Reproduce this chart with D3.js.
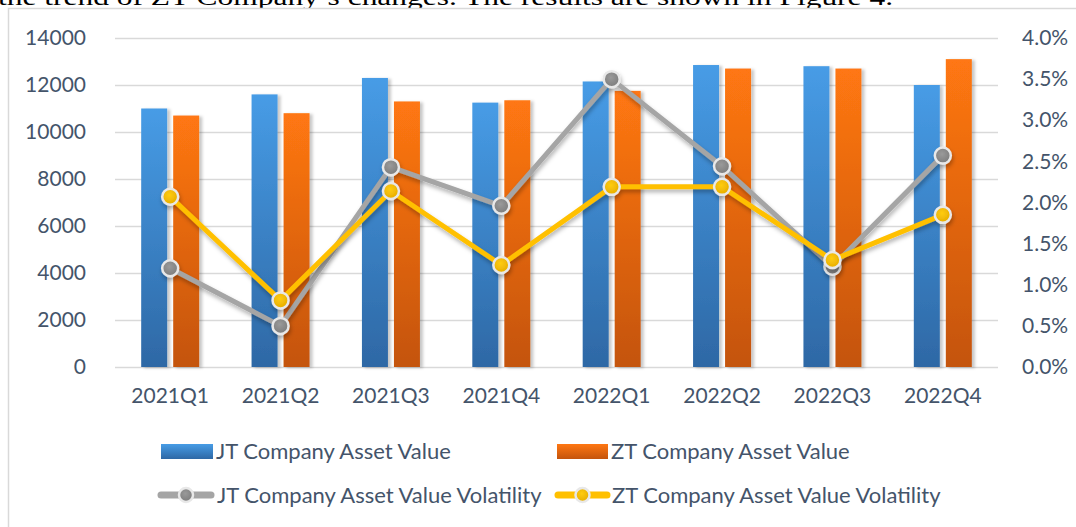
<!DOCTYPE html>
<html>
<head>
<meta charset="utf-8">
<script src="https://cdn.jsdelivr.net/npm/d3@7"></script>
<style>
  html, body { margin: 0; padding: 0; background: #fff; }
  svg { display: block; }
</style>
</head>
<body>
<div id="chart"></div>
<script>
// chart values
const quarters = ['2021Q1', '2021Q2', '2021Q3', '2021Q4', '2022Q1', '2022Q2', '2022Q3', '2022Q4'];
const jtValue = [11000, 11600, 12300, 11250, 12150, 12850, 12800, 12000];
const ztValue = [10700, 10800, 11300, 11350, 11750, 12700, 12700, 13100];
const jtVolatility = [0.0120, 0.0050, 0.0243, 0.0196, 0.0350, 0.0244, 0.0122, 0.0257];
const ztVolatility = [0.0207, 0.0081, 0.0214, 0.0124, 0.0219, 0.0219, 0.0130, 0.0185];
const leftTicks = [0, 2000, 4000, 6000, 8000, 10000, 12000, 14000];
const rightTicks = [0, 0.005, 0.01, 0.015, 0.02, 0.025, 0.03, 0.035, 0.04];
const legendNames = [
  'JT Company Asset Value', 'ZT Company Asset Value',
  'JT Company Asset Value Volatility', 'ZT Company Asset Value Volatility'
];
const captionText = 'the trend of ZT Company\u2019s changes. The results are shown in Figure 4.';

(function() {
  const width = 1076;
  const height = 527;
  const font = 'Lato, "Open Sans", sans-serif';
  const textColor = '#44546a';

  const svg = d3.select('#chart').append('svg')
    .attr('width', width)
    .attr('height', height);

  const defs = svg.append('defs');
  const grad = (id, top, bottom) => {
    const g = defs.append('linearGradient')
      .attr('id', id)
      .attr('x1', 0).attr('y1', 0).attr('x2', 0).attr('y2', 1);
    g.append('stop').attr('offset', '0%').attr('stop-color', top);
    g.append('stop').attr('offset', '100%').attr('stop-color', bottom);
  };
  grad('gBlue', '#479ce6', '#2e68a5');
  grad('gOrange', '#ff7712', '#c4540c');
  const radial = (id, inner, outer) => {
    const g = defs.append('radialGradient').attr('id', id)
      .attr('cx', '45%').attr('cy', '40%').attr('r', '60%');
    g.append('stop').attr('offset', '0%').attr('stop-color', inner);
    g.append('stop').attr('offset', '100%').attr('stop-color', outer);
  };
  radial('gGrayDot', '#9a9a9a', '#7c7c7c');
  radial('gGoldDot', '#ffcc10', '#e6ac00');

  const shadow = defs.append('filter').attr('id', 'shadow')
    .attr('x', '-20%').attr('y', '-20%').attr('width', '140%').attr('height', '140%');
  shadow.append('feDropShadow')
    .attr('dx', 3).attr('dy', 1).attr('stdDeviation', 1.6)
    .attr('flood-color', '#000').attr('flood-opacity', 0.22);
  const lineShadow = defs.append('filter').attr('id', 'lineShadow')
    .attr('x', '-10%').attr('y', '-10%').attr('width', '120%').attr('height', '130%');
  lineShadow.append('feDropShadow')
    .attr('dx', 1).attr('dy', 3).attr('stdDeviation', 2)
    .attr('flood-color', '#000').attr('flood-opacity', 0.3);

  // cropped text of the page above the figure (cut by the top edge in the source too)
  svg.append('text')
    .attr('x', -2)
    .attr('y', 5)
    .attr('textLength', 895)
    .attr('lengthAdjust', 'spacingAndGlyphs')
    .style('font-family', '"Liberation Serif", "Times New Roman", serif')
    .style('font-size', '24px')
    .attr('fill', '#000')
    .text(captionText);

  // chart frame
  svg.append('rect')
    .attr('x', 8.5).attr('y', 8.5)
    .attr('width', width + 20).attr('height', height + 20)
    .attr('fill', '#fff')
    .attr('stroke', '#d9d9d9')
    .attr('stroke-width', 1.5);

  const plot = {left: 115, right: 998, top: 38, bottom: 367};

  const xScale = d3.scaleBand()
    .domain(quarters)
    .range([plot.left, plot.right]);
  const yLeft = d3.scaleLinear()
    .domain([0, 14000])
    .range([plot.bottom, plot.top]);
  const yRight = d3.scaleLinear()
    .domain([0, 0.04])
    .range([plot.bottom, plot.top]);

  // grid
  const grid = d3.axisLeft(yLeft)
    .tickValues(leftTicks)
    .tickSize(-(plot.right - plot.left))
    .tickFormat('');
  svg.append('g')
    .attr('transform', `translate(${plot.left}, 0)`)
    .call(grid)
    .call(g => g.select('.domain').remove())
    .call(g => g.selectAll('line').attr('stroke', '#d9d9d9').attr('stroke-width', 1.5));

  // left axis labels
  const leftAxis = d3.axisLeft(yLeft)
    .tickValues(leftTicks)
    .tickSize(0)
    .tickPadding(plot.left - 86)
    .tickFormat(d3.format('d'));
  svg.append('g')
    .attr('transform', `translate(${plot.left}, 0)`)
    .call(leftAxis)
    .call(g => g.select('.domain').remove())
    .call(g => g.selectAll('text')
      .attr('fill', textColor)
      .style('font-family', font)
      .style('font-size', '21px'));

  // right axis labels
  const rightAxis = d3.axisRight(yRight)
    .tickValues(rightTicks)
    .tickSize(0)
    .tickPadding(1022 - plot.right)
    .tickFormat(d3.format('.1%'));
  svg.append('g')
    .attr('transform', `translate(${plot.right}, 0)`)
    .call(rightAxis)
    .call(g => g.select('.domain').remove())
    .call(g => g.selectAll('text')
      .attr('fill', textColor)
      .style('font-family', font)
      .style('font-size', '21px'));

  // category axis
  const xAxis = d3.axisBottom(xScale).tickSize(0).tickPadding(21);
  svg.append('g')
    .attr('transform', `translate(0, ${plot.bottom})`)
    .call(xAxis)
    .call(g => g.select('.domain').remove())
    .call(g => g.selectAll('text')
      .attr('fill', textColor)
      .style('font-family', font)
      .style('font-size', '21px'));

  // bars
  const barW = 26;
  const gap = 6;
  const center = q => xScale(q) + xScale.bandwidth() / 2;
  const bars = [
    {values: jtValue, fill: 'url(#gBlue)', dx: -gap / 2 - barW},
    {values: ztValue, fill: 'url(#gOrange)', dx: gap / 2}
  ];
  bars.forEach(s => {
    svg.append('g')
      .attr('filter', 'url(#shadow)')
      .selectAll('rect')
      .data(quarters)
      .join('rect')
      .attr('x', (q, i) => center(q) + s.dx)
      .attr('y', (q, i) => yLeft(s.values[i]))
      .attr('width', barW)
      .attr('height', (q, i) => yLeft(0) - yLeft(s.values[i]))
      .attr('fill', s.fill);
  });

  // lines
  const lines = [
    {values: jtVolatility, stroke: '#a5a5a5', dot: 'url(#gGrayDot)'},
    {values: ztVolatility, stroke: '#ffc000', dot: 'url(#gGoldDot)'}
  ];
  const line = d3.line()
    .x(d => center(d.q))
    .y(d => yRight(d.v));
  lines.forEach(s => {
    const pts = quarters.map((q, i) => ({q: q, v: s.values[i]}));
    const g = svg.append('g').attr('filter', 'url(#lineShadow)');
    g.append('path')
      .datum(pts)
      .attr('fill', 'none')
      .attr('stroke', s.stroke)
      .attr('stroke-width', 5)
      .attr('stroke-linejoin', 'round')
      .attr('d', line);
    g.selectAll('circle')
      .data(pts)
      .join('circle')
      .attr('cx', d => center(d.q))
      .attr('cy', d => yRight(d.v))
      .attr('r', 8)
      .attr('fill', s.dot)
      .attr('stroke', '#e8e8e8')
      .attr('stroke-width', 2.5);
  });

  // legend
  const legend = svg.append('g');
  const legendText = (x, y, t) => legend.append('text')
    .attr('x', x)
    .attr('y', y)
    .attr('dy', '0.35em')
    .attr('fill', textColor)
    .style('font-family', font)
    .style('font-size', '22px')
    .text(t);

  legend.append('rect')
    .attr('x', 161).attr('y', 444).attr('width', 52).attr('height', 15)
    .attr('fill', 'url(#gBlue)');
  legendText(216, 451, legendNames[0]);
  legend.append('rect')
    .attr('x', 557).attr('y', 444).attr('width', 51).attr('height', 15)
    .attr('fill', 'url(#gOrange)');
  legendText(611, 451, legendNames[1]);

  [[158, 214, 0], [555, 610, 1]].forEach(([x0, x1, k]) => {
    legend.append('line')
      .attr('x1', x0 + 3).attr('x2', x1 - 3)
      .attr('y1', 495).attr('y2', 495)
      .attr('stroke', lines[k].stroke)
      .attr('stroke-width', 7)
      .attr('stroke-linecap', 'round');
    legend.append('circle')
      .attr('cx', (x0 + x1) / 2).attr('cy', 495).attr('r', 7)
      .attr('fill', lines[k].dot)
      .attr('stroke', '#e8e8e8')
      .attr('stroke-width', 2.5);
  });
  legendText(217, 495, legendNames[2]);
  legendText(612, 495, legendNames[3]);
})();
</script>
</body>
</html>
